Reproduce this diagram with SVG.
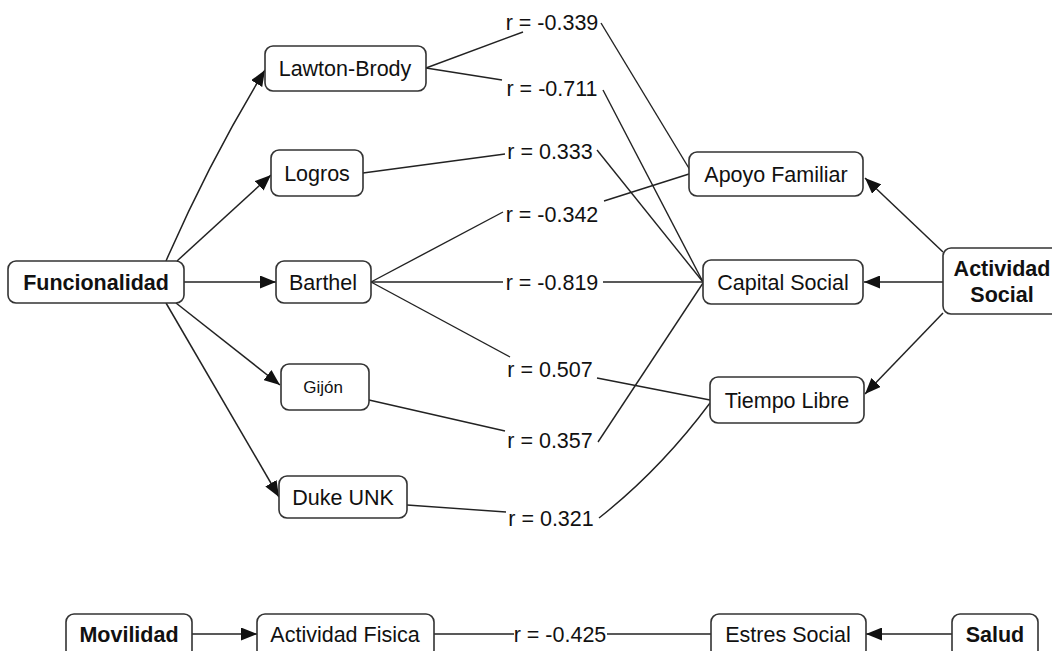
<svg xmlns="http://www.w3.org/2000/svg" width="1052" height="651" viewBox="0 0 1052 651">
<style>
.box{fill:#fff;stroke:#333;stroke-width:1.6}
.t{font-family:"Liberation Sans",Arial,sans-serif;font-size:21.5px;fill:#111;text-anchor:middle}
.b{font-weight:bold}
.lbl{font-family:"Liberation Sans",Arial,sans-serif;font-size:21.5px;fill:#111;text-anchor:middle}
.c{fill:none;stroke:#222;stroke-width:1.4}
.a{fill:none;stroke:#222;stroke-width:1.5;marker-end:url(#ah)}
</style>
<defs>
<marker id="ah" viewBox="0 0 16 13" refX="16" refY="6.5" markerWidth="16" markerHeight="13" markerUnits="userSpaceOnUse" orient="auto">
<path d="M0,0 L16,6.5 L0,13 Z" fill="#111"/>
</marker>
</defs>
<rect width="1052" height="651" fill="#fff"/>
<g id="connectors">
<path class="a" d="M166,261 Q210,160 265,70"/>
<path class="a" d="M177,261 L271,175"/>
<path class="a" d="M184,282 L276,282"/>
<path class="a" d="M176,303 L280,385"/>
<path class="a" d="M166,303 L279,497"/>
<path class="a" d="M943,252 L865,178"/>
<path class="a" d="M943,282 L864,282"/>
<path class="a" d="M943,313 L865,394"/>
<path class="a" d="M192,634 L257,634"/>
<path class="a" d="M952,634 L866,634"/>
<path class="c" d="M426,68 L523,32"/>
<path class="c" d="M601,23 L690,170"/>
<path class="c" d="M426,68 L502,80"/>
<path class="c" d="M603,90 L703,282"/>
<path class="c" d="M363,173 L505,154"/>
<path class="c" d="M597,150 L703,282"/>
<path class="c" d="M371,282 L503,212"/>
<path class="c" d="M604,201 L689,174"/>
<path class="c" d="M371,282 L503,282"/>
<path class="c" d="M603,282 L703,282"/>
<path class="c" d="M371,282 L510,357"/>
<path class="c" d="M597,378 L710,400"/>
<path class="c" d="M369,400 L505,431"/>
<path class="c" d="M598,442 L703,283"/>
<path class="c" d="M407,505 L506,512"/>
<path class="c" d="M599,518 Q660,470 710,403"/>
<path class="c" d="M434,634 L514,634"/>
<path class="c" d="M607,634 L711,634"/>
</g>
<g id="labels">
<text class="lbl" x="552" y="30">r = -0.339</text>
<text class="lbl" x="552" y="96">r = -0.711</text>
<text class="lbl" x="550" y="159">r = 0.333</text>
<text class="lbl" x="552" y="222">r = -0.342</text>
<text class="lbl" x="552" y="290">r = -0.819</text>
<text class="lbl" x="550" y="377">r = 0.507</text>
<text class="lbl" x="550" y="448">r = 0.357</text>
<text class="lbl" x="551" y="526">r = 0.321</text>
<text class="lbl" x="560" y="642">r = -0.425</text>
</g>
<g id="funcionalidad"><rect class="box" x="8" y="261" width="176" height="42" rx="8"/><text class="t b" x="96" y="290">Funcionalidad</text></g>
<g id="lawton"><rect class="box" x="265" y="46" width="161" height="45" rx="8"/><text class="t" x="345" y="76">Lawton-Brody</text></g>
<g id="logros"><rect class="box" x="271" y="150" width="92" height="46" rx="8"/><text class="t" x="317" y="181">Logros</text></g>
<g id="barthel"><rect class="box" x="276" y="261" width="95" height="42" rx="8"/><text class="t" x="323" y="290">Barthel</text></g>
<g id="gijon"><rect class="box" x="281" y="364" width="88" height="46" rx="8"/><text class="t" x="323" y="393" style="font-size:17px">Gijón</text></g>
<g id="duke"><rect class="box" x="279" y="476" width="128" height="42" rx="8"/><text class="t" x="343" y="505">Duke UNK</text></g>
<g id="apoyo"><rect class="box" x="689" y="152" width="174" height="44" rx="8"/><text class="t" x="776" y="182">Apoyo Familiar</text></g>
<g id="capital"><rect class="box" x="703" y="260" width="160" height="44" rx="8"/><text class="t" x="783" y="290">Capital Social</text></g>
<g id="tiempo"><rect class="box" x="710" y="377" width="154" height="46" rx="8"/><text class="t" x="787" y="408">Tiempo Libre</text></g>
<g id="actividad-social"><rect class="box" x="943" y="248" width="120" height="66" rx="8"/><text class="t b" x="1002" y="276">Actividad</text><text class="t b" x="1002" y="302">Social</text></g>
<g id="movilidad"><rect class="box" x="66" y="614" width="126" height="44" rx="8"/><text class="t b" x="129" y="642">Movilidad</text></g>
<g id="actividad-fisica"><rect class="box" x="257" y="614" width="177" height="44" rx="8"/><text class="t" x="345" y="642">Actividad Fisica</text></g>
<g id="estres"><rect class="box" x="711" y="614" width="155" height="44" rx="8"/><text class="t" x="788" y="642">Estres Social</text></g>
<g id="salud"><rect class="box" x="952" y="614" width="86" height="44" rx="8"/><text class="t b" x="995" y="642">Salud</text></g>
</svg>
